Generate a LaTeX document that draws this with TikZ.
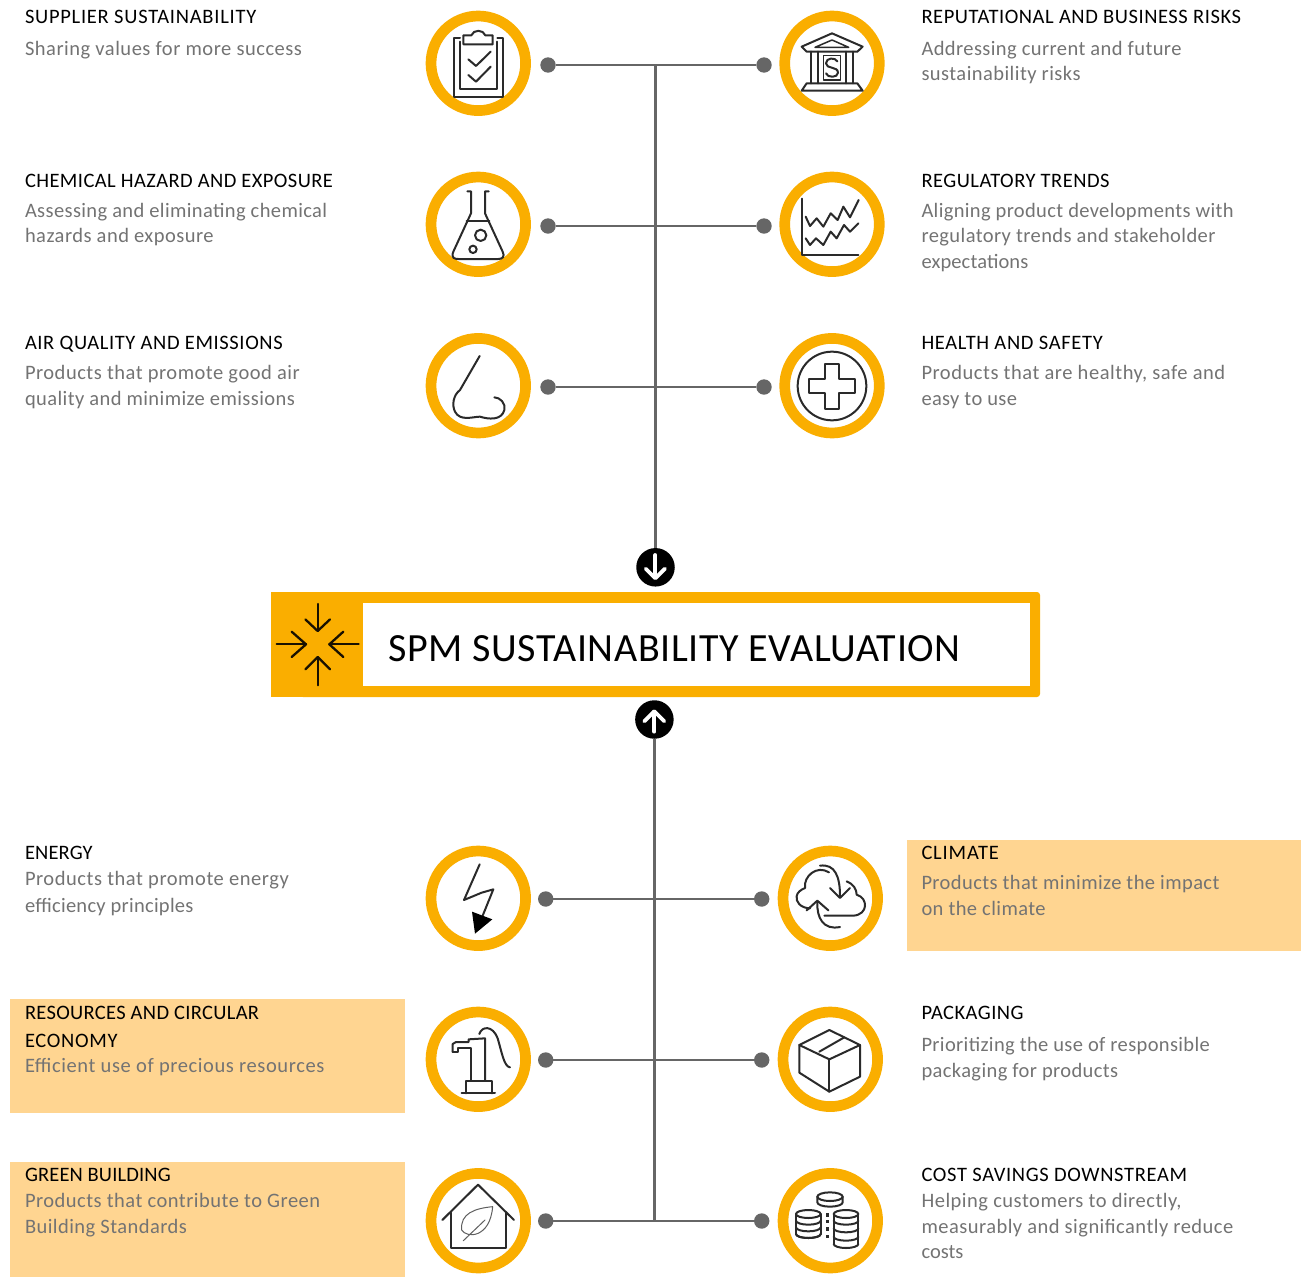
\documentclass[tikz,border=0pt]{standalone}
\usepackage{fontspec}
\setmainfont{Carlito}
\definecolor{amber}{HTML}{FAAE00}
\definecolor{peach}{HTML}{FFD591}
\definecolor{linegrey}{HTML}{666666}
\definecolor{descgrey}{HTML}{737373}
\definecolor{inkc}{HTML}{2A2A2A}
\tikzset{
 ring/.style={circle,draw=amber,fill=white,line width=10.7pt,minimum size=94.6pt,inner sep=0pt,outer sep=0pt},
 dotn/.style={circle,fill=linegrey,minimum size=15.4pt,inner sep=0pt,outer sep=0pt},
 conn/.style={draw=linegrey,line width=2.6pt},
 badge/.style={circle,fill=black,minimum size=38.5pt,inner sep=0pt,outer sep=0pt},
 badgearrow/.style={draw=white,line width=3.8pt,line cap=round,line join=round},
 head/.style={anchor=base west,inner sep=0pt,outer sep=0pt,text=black,font=\fontsize{20.5pt}{25pt}\selectfont\addfontfeatures{LetterSpace=#1}},
 desc/.style={anchor=base west,inner sep=0pt,outer sep=0pt,text=descgrey,font=\fontsize{20.5pt}{25pt}\selectfont\addfontfeatures{LetterSpace=#1}},
 ico/.style={draw=inkc,line width=2pt,line cap=round,line join=round,fill=none},
 arrowicon/.style={draw=black!90!amber,line width=2.3pt,line cap=round,line join=round},
 zoomat/.style 2 args={shift={(#1,#2)},x=.33333pt,y=-.33333pt},
}
\begin{document}
\begin{tikzpicture}[x=1pt,y=-1pt]
\useasboundingbox (0,0) rectangle (1301,1277);
% highlight panels
\fill[peach] (907,840) rectangle (1301,951);
\fill[peach] (10,999) rectangle (405,1113);
\fill[peach] (10,1162) rectangle (405,1277);
% banner
\fill[amber,rounded corners=3pt] (300,592) rectangle (1040,697);
\fill[amber] (271,592) rectangle (363,697);
\node[draw=none,fill=white,anchor=north west,minimum width=667pt,minimum height=83.5pt,inner sep=0pt,outer sep=0pt] (banner) at (363,602.7) {};
\node[anchor=base west,inner sep=0pt,font=\fontsize{40pt}{44pt}\selectfont\addfontfeatures{LetterSpace=1.6}] (title) at (388,661) {SPM SUSTAINABILITY EVALUATION};
% rings
\node[ring] (a1) at (478.3,63.3) {};
\node[ring] (a2) at (478.3,224.3) {};
\node[ring] (a3) at (478.3,385.7) {};
\node[ring] (b1) at (832,63.3) {};
\node[ring] (b2) at (832,224.3) {};
\node[ring] (b3) at (832,385.7) {};
\node[ring] (c1) at (478.3,898.3) {};
\node[ring] (c2) at (478.3,1059.3) {};
\node[ring] (c3) at (478.3,1220.7) {};
\node[ring] (d1) at (830.3,898.3) {};
\node[ring] (d2) at (830.3,1059.3) {};
\node[ring] (d3) at (830.3,1220.7) {};
% dots
\node[dotn] (ta1) at (548,65) {};
\node[dotn] (ta2) at (548,226) {};
\node[dotn] (ta3) at (548,387) {};
\node[dotn] (tb1) at (764,65) {};
\node[dotn] (tb2) at (764,226) {};
\node[dotn] (tb3) at (764,387) {};
\node[dotn] (ua1) at (545.7,899) {};
\node[dotn] (ua2) at (545.7,1060) {};
\node[dotn] (ua3) at (545.7,1221) {};
\node[dotn] (ub1) at (761.7,899) {};
\node[dotn] (ub2) at (761.7,1060) {};
\node[dotn] (ub3) at (761.7,1221) {};
% badges
\node[badge] (bt) at (655.5,567.3) {};
\node[badge] (bu) at (654.4,719.5) {};
\coordinate (jt) at (655.5,65);
\coordinate (ju) at (654.4,1221);
% connectors
\draw[conn] (ta1) -- (tb1);
\draw[conn] (ta2) -- (tb2);
\draw[conn] (ta3) -- (tb3);
\draw[conn] (ua1) -- (ub1);
\draw[conn] (ua2) -- (ub2);
\draw[conn] (ua3) -- (ub3);
\draw[conn] (jt) -- (bt);
\draw[conn] (ju) -- (bu);
% badge arrows and banner icon
\begin{scope}[zoomat={260}{540}]
\draw[badgearrow] (1186,45) -- (1186,112);
\draw[badgearrow] (1157,86) -- (1186,115) -- (1215,86);
\draw[badgearrow] (1183,575) -- (1183,515);
\draw[badgearrow] (1153,544) -- (1183,514) -- (1213,544);
\draw[arrowicon] (173,192) -- (173,272);
\draw[arrowicon] (136,238) -- (173,273) -- (210,238);
\draw[arrowicon] (173,436) -- (173,352);
\draw[arrowicon] (136,388) -- (173,351) -- (210,388);
\draw[arrowicon] (50,313) -- (138,313);
\draw[arrowicon] (95,275) -- (138,313) -- (95,351);
\draw[arrowicon] (296,313) -- (208,313);
\draw[arrowicon] (250,275) -- (208,313) -- (250,351);
\end{scope}
% icons top
\begin{scope}[zoomat={410}{0}]
% clipboard
\draw[ico] (150,113) -- (132,113) -- (132,290) -- (280,290) -- (280,113) -- (262,113);
\draw[ico] (150,125) -- (150,268) -- (262,268) -- (262,125);
\draw[ico] (160,106) -- (160,133) -- (248,133) -- (248,106) -- (226,106) .. controls (220,88) and (190,88) .. (184,106) -- cycle;
\draw[ico] (175,178) -- (198,198) -- (242,155);
\draw[ico] (175,225) -- (198,245) -- (242,200);
% bank
\draw[ico] (1175,140) -- (1266,100) -- (1358,140) -- (1342,155) -- (1190,155) -- cycle;
\draw[ico,line width=1.5pt] (1215,142) -- (1266,120) -- (1316,142) -- cycle;
\draw[ico] (1203,155) -- (1203,250) (1224,155) -- (1224,250) (1308,155) -- (1308,250) (1330,155) -- (1330,250);
\draw[ico,line width=1.5pt] (1240,166) rectangle (1292,240);
\draw[ico] (1282,184) .. controls (1276,172) and (1248,172) .. (1248,190) .. controls (1248,208) and (1284,198) .. (1284,218) .. controls (1284,234) and (1252,234) .. (1248,220);
\draw[ico] (1190,250) -- (1342,250) -- (1358,272) -- (1175,272) -- cycle;
% flask
\draw[ico] (172,574) -- (183,574) -- (183,640) -- (130,755) .. controls (122,775) and (135,777) .. (145,777) -- (265,777) .. controls (278,777) and (285,770) .. (278,755) -- (225,640) -- (225,574) -- (236,574);
\draw[ico] (170,664) -- (238,664);
\draw[ico] (212,706) circle (17);
\draw[ico] (189,748) circle (11);
% chart
\draw[ico] (1177,596) -- (1177,765) -- (1345,765);
\draw[ico] (1187,650) -- (1200,678) -- (1220,655) -- (1240,680) -- (1262,640) -- (1283,660) -- (1300,620) -- (1320,652) -- (1346,600);
\draw[ico] (1187,715) -- (1200,735) -- (1218,715) -- (1240,735) -- (1262,695) -- (1280,715) -- (1302,675) -- (1320,695) -- (1345,670);
% nose
\draw[ico] (209,1068) -- (150,1170) .. controls (130,1185) and (125,1215) .. (135,1235) .. controls (150,1265) and (190,1250) .. (210,1250) .. controls (235,1258) and (275,1262) .. (283,1230) .. controls (288,1210) and (270,1192) .. (253,1192);
% health
\draw[ico] (1266,1158) circle (103);
\draw[ico] (1245,1092) -- (1287,1092) -- (1287,1137) -- (1336,1137) -- (1336,1180) -- (1287,1180) -- (1287,1228) -- (1245,1228) -- (1245,1180) -- (1198,1180) -- (1198,1137) -- (1245,1137) -- cycle;
\end{scope}
% icons bottom
\begin{scope}[zoomat={410}{830}]
% bolt
\draw[ico] (209,103) -- (162,210) -- (215,188) -- (250,178) -- (216,262);
\fill[black] (186,245) -- (247,268) -- (195,311) -- cycle;
% box
\draw[ico] (1258,600) -- (1350,645) -- (1350,740) -- (1258,785) -- (1168,728) -- (1168,645) -- cycle;
\draw[ico] (1168,645) -- (1258,688) -- (1350,645);
\draw[ico] (1258,688) -- (1258,785);
\draw[ico] (1228,665) -- (1303,622);
% house
\draw[ico] (97,1170) -- (204,1064) -- (312,1170);
\draw[ico] (122,1148) -- (122,1254) -- (288,1254) -- (288,1148);
\draw[ico,line width=1pt,draw=inkc!75] (248,1130) .. controls (195,1135) and (150,1150) .. (155,1200) .. controls (170,1225) and (240,1225) .. (248,1130);
\draw[ico,line width=1pt,draw=inkc!75] (160,1232) -- (225,1170);
\end{scope}
% cloud
\begin{scope}[zoomat={785}{853}]
\draw[ico] (75,166) .. controls (45,165) and (32,145) .. (35,130) .. controls (36,118) and (48,110) .. (60,105) .. controls (55,70) and (95,35) .. (132,58);
\draw[ico] (185,85) .. controls (205,92) and (215,110) .. (215,125) .. controls (250,135) and (250,185) .. (205,188) -- (118,188);
\draw[ico] (105,38) .. controls (150,32) and (165,70) .. (165,130);
\draw[ico] (135,105) -- (165,135) -- (195,105);
\draw[ico] (97,147) .. controls (95,195) and (115,232) .. (165,222);
\draw[ico] (65,172) -- (97,143) -- (130,172);
\end{scope}
% pump
\begin{scope}[zoomat={430}{1010}]
\draw[ico] (68,125) -- (85,125) -- (85,113) -- (122,113) -- (122,210);
\draw[ico] (68,125) -- (68,102) -- (78,96) -- (116,96) -- (116,88) -- (165,85) -- (165,210);
\draw[ico] (148,72) .. controls (155,48) and (188,45) .. (203,85) .. controls (215,125) and (222,170) .. (240,172);
\draw[ico] (108,250) -- (108,213) -- (185,213) -- (185,250);
\draw[ico] (95,250) -- (195,250);
\end{scope}
% coin stacks
\begin{scope}[zoomat={785}{1175}]
\draw[ico] (135,65) ellipse (38 and 13);
\draw[ico] (97,65) -- (97,82) arc[start angle=180,end angle=0,x radius=38,y radius=13] -- (173,65);
\foreach \cx/\yone/\ytwo/\ythree/\yfour in {70/137/157/177/177,183/137/160/185/207}{
  \draw[ico] (\cx,117) ellipse (37 and 12);
  \foreach \yy in {\yone,\ytwo,\ythree,\yfour}{
    \draw[ico] (\cx-37,\yy) arc[start angle=180,end angle=0,x radius=37,y radius=12];
  }
  \draw[ico] (\cx-37,117) -- (\cx-37,\yfour) (\cx+37,117) -- (\cx+37,\yfour);
}
\foreach \yy in {120,140,162,185}{
  \fill[inkc] (122,\yy-5) rectangle (132,\yy+5);
}
\end{scope}
% text top left
\node[head=3.6] (h1) at (25,23) {SUPPLIER SUSTAINABILITY};
\node[desc=2.5] (t1) at (25,55) {Sharing values for more success};
\node[head=2.1] (h2) at (25,187) {CHEMICAL HAZARD AND EXPOSURE};
\node[desc=1.85] (t2) at (25,217) {Assessing and eliminating chemical};
\node[desc=2.3] (t2b) at (25,242) {hazards and exposure};
\node[head=3] (h3) at (25,349) {AIR QUALITY AND EMISSIONS};
\node[desc=2.5] (t3) at (25,379) {Products that promote good air};
\node[desc=2] (t3b) at (25,405) {quality and minimize emissions};
% text top right
\node[head=2.8] (h4) at (921.5,23) {REPUTATIONAL AND BUSINESS RISKS};
\node[desc=2] (t4) at (921.5,55) {Addressing current and future};
\node[desc=2.2] (t4b) at (921.5,80) {sustainability risks};
\node[head=2.4] (h5) at (921.5,187) {REGULATORY TRENDS};
\node[desc=1.7] (t5) at (921.5,217) {Aligning product developments with};
\node[desc=2] (t5b) at (921.5,242) {regulatory trends and stakeholder};
\node[desc=0.6] (t5c) at (921.5,268) {expectations};
\node[head=3.3] (h6) at (921.5,349) {HEALTH AND SAFETY};
\node[desc=2.6] (t6) at (921.5,379) {Products that are healthy, safe and};
\node[desc=1.7] (t6b) at (921.5,405) {easy to use};
% text bottom left
\node[head=0.8] (h7) at (25,859) {ENERGY};
\node[desc=2.65] (t7) at (25,885) {Products that promote energy};
\node[desc=1.3] (t7b) at (25,912) {efficiency principles};
\node[head=1.6] (h8) at (25,1019) {RESOURCES AND CIRCULAR};
\node[head=3.5] (h8b) at (25,1047) {ECONOMY};
\node[desc=2.9] (t8) at (25,1072) {Efficient use of precious resources};
\node[head=0.7] (h9) at (25,1181) {GREEN BUILDING};
\node[desc=2.4] (t9) at (25,1207) {Products that contribute to Green};
\node[desc=2.2] (t9b) at (25,1233) {Building Standards};
% text bottom right
\node[head=4] (h10) at (921.5,859) {CLIMATE};
\node[desc=2] (t10) at (921.5,889) {Products that minimize the impact};
\node[desc=2] (t10b) at (921.5,915) {on the climate};
\node[head=2.2] (h11) at (921.5,1019) {PACKAGING};
\node[desc=1.75] (t11) at (921.5,1051) {Prioritizing the use of responsible};
\node[desc=1.9] (t11b) at (921.5,1077) {packaging for products};
\node[head=3.2] (h12) at (921.5,1181) {COST SAVINGS DOWNSTREAM};
\node[desc=2.5] (t12) at (921.5,1207) {Helping customers to directly,};
\node[desc=2.3] (t12b) at (921.5,1233) {measurably and significantly reduce};
\node[desc=0] (t12c) at (921.5,1258) {costs};
\end{tikzpicture}
\end{document}
